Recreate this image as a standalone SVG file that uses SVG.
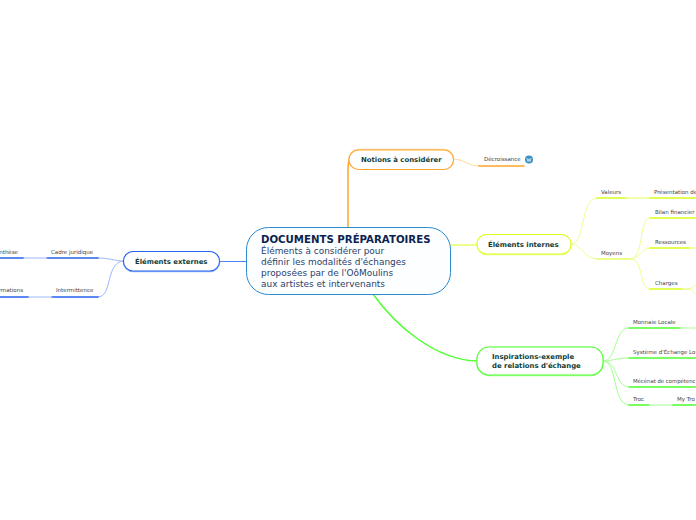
<svg xmlns="http://www.w3.org/2000/svg" width="696" height="520" viewBox="0 0 696 520">
<style>
text{font-family:"DejaVu Sans",Verdana,sans-serif}
.c{fill:none;stroke-linecap:round}
.t{font-size:5.5px;fill:#444}
.m{font-size:6.9px;font-weight:bold;fill:#0f3d3a}
.n{fill:#fff;stroke-width:1.1}
.or{stroke:#ffa52c}.ye{stroke:#d8ff1a}.gr{stroke:#4dff2e}.bl{stroke:#2563f0}
.orl{stroke:#ffd79b}.yel{stroke:#eaff90}.grl{stroke:#a4ff90}.bll{stroke:#9cb8ff}
</style>
<rect width="696" height="520" fill="#fff"/>
<g id="connectors">
<path class="c or" stroke-width="1.5" d="M348 228V170Q348 157 352 155"/>
<path class="c ye" stroke-width="1" d="M450 245H477"/>
<path class="c gr" stroke-width="1.4" d="M373 294C395 325 435 360 477 361"/>
<path class="c bl" stroke-width="0.8" d="M246 261.500H219"/>
<path class="c orl" d="M454 159C466 160 468 166 479 166"/>
<path class="c or" stroke-width="1.6" d="M479 166H524"/>
<path class="c yel" d="M571 244C586 244 580 198 597 198"/>
<path class="c yel" d="M571 244C582 244 584 259 597 259"/>
<path class="c ye" stroke-width="1.6" d="M597 198H626"/>
<path class="c yel" stroke-width="1.3" d="M626 198H650"/>
<path class="c ye" stroke-width="1.6" d="M650 198H696"/>
<path class="c ye" stroke-width="1.2" d="M597 259H630"/>
<path class="c yel" d="M630 259C645 259 638 218 650 218"/>
<path class="c yel" d="M630 259C640 259 642 248 650 248"/>
<path class="c yel" d="M630 259C645 259 638 289 650 289"/>
<path class="c ye" stroke-width="1.6" d="M650 218H696"/>
<path class="c ye" stroke-width="1.6" d="M650 248H690"/>
<path class="c yel" stroke-width="1.3" d="M690 248H696"/>
<path class="c ye" stroke-width="1.6" d="M650 289H682"/>
<path class="c yel" stroke-width="1.3" d="M682 289H690"/>
<path class="c yel" d="M688 289C692 289 693 286 696 285"/>
<path class="c yel" d="M688 289C692 289 693 292 696 294"/>
<path class="c grl" d="M603 361C618 361 613 328 629 328"/>
<path class="c grl" d="M603 361C613 361 616 358 629 358"/>
<path class="c grl" d="M603 361C618 361 615 387 629 387"/>
<path class="c grl" d="M603 361C618 361 612 405 629 405"/>
<path class="c gr" stroke-width="1.6" d="M629 328H680"/>
<path class="c grl" d="M680 328H696"/>
<path class="c gr" stroke-width="1.6" d="M629 358H696"/>
<path class="c gr" stroke-width="1.6" d="M629 387H696"/>
<path class="c gr" stroke-width="1.6" d="M629 405H649"/>
<path class="c grl" d="M649 405H673"/>
<path class="c gr" stroke-width="1.6" d="M673 405H696"/>
<path class="c bll" d="M123 261C115 261 110 258 98 258"/>
<path class="c bll" d="M123 261C105 263 113 297 98 297"/>
<path class="c bl" stroke-width="1.6" d="M47 258H98"/>
<path class="c bll" d="M23 258H47"/>
<path class="c bl" stroke-width="1.6" d="M0 258H23"/>
<path class="c bl" stroke-width="1.6" d="M52 297H98"/>
<path class="c bll" d="M28 297H52"/>
<path class="c bl" stroke-width="1.6" d="M0 297H28"/>
</g>
<g id="central"><rect x="246.500" y="227.500" width="204" height="67" rx="22" fill="#fdfeff" stroke="#2a8ad0" stroke-width="1"/>
<text x="261" y="243" font-size="10.2" font-weight="bold" fill="#0b2350">DOCUMENTS PRÉPARATOIRES</text>
<text font-size="8.95" fill="#2b3f6b"><tspan x="261" y="254">Éléments à considérer pour</tspan><tspan x="261" y="265">définir les modalités d'échanges</tspan><tspan x="261" y="276">proposées par de l'OôMoulins</tspan><tspan x="261" y="287">aux artistes et intervenants</tspan></text></g>
<g id="notions"><rect x="349" y="149.500" width="104.500" height="19.500" rx="9.500" fill="none" stroke="#ffd79b" stroke-width="1.500"/><rect class="n" x="349" y="150" width="104.500" height="19.500" rx="9.500" stroke="#ffa52c"/><text class="m" x="361" y="162">Notions à considérer</text></g>
<g id="internes"><rect x="477" y="235" width="94" height="19.500" rx="9.500" fill="none" stroke="#eaff90" stroke-width="1.500"/><rect class="n" x="477" y="234.500" width="94" height="19.500" rx="9.500" stroke="#d8ff1a"/><text class="m" x="488" y="247">Éléments internes</text></g>
<g id="inspirations"><rect x="477" y="347.500" width="126" height="28" rx="12" fill="none" stroke="#a4ff90" stroke-width="1.500"/><rect class="n" x="477" y="347" width="126" height="28" rx="12" stroke="#4dff2e"/><text class="m"><tspan x="492" y="359">Inspirations-exemple</tspan><tspan x="492" y="368">de relations d'échange</tspan></text></g>
<g id="externes"><rect x="123.500" y="252" width="96" height="19.500" rx="9.500" fill="none" stroke="#9cb8ff" stroke-width="1.500"/><rect class="n" x="123.500" y="251.500" width="96" height="19.500" rx="9.500" stroke="#2563f0"/><text class="m" x="135" y="264">Éléments externes</text></g>
<g id="decroissance"><text class="t" x="484" y="161">Décroissance</text></g>
<g id="wp"><circle cx="529" cy="159.500" r="4" fill="#3a8fc4"/><path d="M526.800 157.800L528 161.500L529 158.800L530 161.500L531.200 157.800" fill="none" stroke="#dff0fa" stroke-width="0.800"/></g>
<g id="leaves">
<text class="t" x="601" y="194">Valeurs</text>
<text class="t" x="654" y="194">Présentation de</text>
<text class="t" x="655" y="214">Bilan financier</text>
<text class="t" x="655" y="244">Ressources</text>
<text class="t" x="655" y="285">Charges</text>
<text class="t" x="601" y="255">Moyens</text>
<text class="t" x="633" y="324">Monnaie Locale</text>
<text class="t" x="633" y="354">Système d'Échange Lo</text>
<text class="t" x="633" y="383" textLength="62.500" lengthAdjust="spacingAndGlyphs">Mécénat de compétenc</text>
<text class="t" x="633" y="401">Troc</text>
<text class="t" x="677" y="401">My Tro</text>
<text class="t" x="51" y="254">Cadre juridique</text>
<text class="t" x="56" y="292">Intermittence</text>
<text class="t" x="18" y="254" text-anchor="end">nthèse</text>
<text class="t" x="23" y="292" text-anchor="end">rmations</text>
</g>
</svg>
